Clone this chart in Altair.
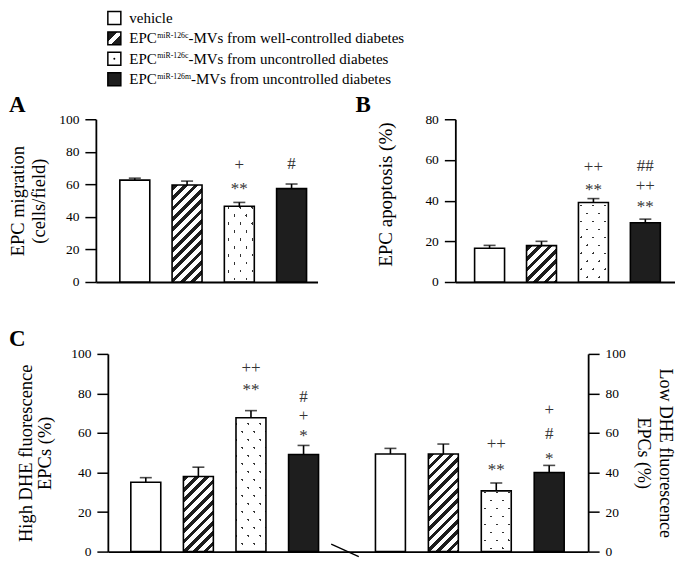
import math
import altair as alt
import pandas as pd

FONT = "Liberation Serif"

# ---------------- data ----------------
categories = ["vehicle", "wc126c", "uc126c", "uc126m"]
patterns = ["open", "hatch", "dots", "solid"]

legend_main = ["vehicle", "EPC", "EPC", "EPC"]
legend_sup = ["", "miR-126c", "miR-126c", "miR-126m"]
legend_rest = ["", "-MVs from well-controlled diabetes",
               "-MVs from uncontrolled diabetes", "-MVs from uncontrolled diabetes"]

a_mean = [62.6, 59.6, 46.5, 57.4]
a_err = [63.8, 62.0, 48.9, 60.2]
b_mean = [16.6, 17.9, 39.1, 29.1]
b_err = [18.0, 20.0, 41.0, 30.9]
cl_mean = [35.1, 38.0, 67.7, 49.1]
cl_err = [37.4, 42.7, 71.3, 53.7]
cr_mean = [49.4, 49.4, 30.7, 40.0]
cr_err = [52.2, 54.4, 34.7, 43.6]

a_note_cat = ["uc126c", "uc126c", "uc126m"]
a_note_txt = ["+", "**", "#"]
a_note_y = [72.1, 60.0, 72.6]

b_note_cat = ["uc126c", "uc126c", "uc126m", "uc126m", "uc126m"]
b_note_txt = ["++", "**", "##", "++", "**"]
b_note_y = [56.5, 47.2, 56.9, 47.2, 39.1]

cl_note_cat = ["uc126c", "uc126c", "uc126m", "uc126m", "uc126m"]
cl_note_txt = ["++", "**", "#", "+", "*"]
cl_note_y = [93.0, 84.0, 78.2, 68.4, 60.6]

cr_note_cat = ["uc126c", "uc126c", "uc126m", "uc126m", "uc126m"]
cr_note_txt = ["++", "**", "+", "#", "*"]
cr_note_y = [54.4, 43.3, 71.5, 59.7, 48.9]

panel_labels = ["A", "B", "C"]

# ---------------- layout (view pixels) ----------------
W, H = 667, 542
BW = 30
GEOM = {
    "A": dict(x0=87, x1=309, top=109, bottom=272, ymax=100, centers=[126, 177, 229.5, 283],
              orient="left", title=["EPC migration", "(cells/field)"], titleX=-78.5,
              titleY=190.5, titleSize=18.5, lineH=21.5),
    "B": dict(x0=447, x1=667, top=109, bottom=272, ymax=80, centers=[481.3, 531, 583.7, 637.3],
              orient="left", title="EPC apoptosis (%)", titleX=-70, titleY=184,
              titleSize=19, lineH=21),
    "CL": dict(x0=99, x1=337, top=344, bottom=542, ymax=100, centers=[137, 189.3, 242.3, 295],
               orient="left", title=["High DHE fluorescence", "EPCs (%)"], titleX=-82.3,
               titleY=443, titleSize=18.5, lineH=18.5),
    "CR": dict(x0=337, x1=580, top=344, bottom=542, ymax=100, centers=[382, 434, 486.2, 541],
               orient="right", title=["Low DHE fluorescence", "EPCs (%)"], titleX=76,
               titleY=443, titleSize=18, lineH=22),
}
TRANSPARENT = "rgba(255,255,255,0)"
BLACK = "#1e1e1e"
NOTE_COLOR = "#333333"


def band_params(x0, x1, centers, bw=BW):
    s = (centers[-1] - centers[0]) / 3.0
    pi = 1 - bw / s
    L = centers[0] - bw / 2 - x0
    R = x1 - (centers[-1] + bw / 2)
    po = (L + R) / (2 * s)
    al = L / (L + R)
    return pi, po, al


def stripes(w, h, nx, ny, period, on_w, on_col, off_col, phase=0.0):
    n = math.hypot(nx, ny)
    nx, ny = nx / n, ny / n
    span = abs(nx) * w + abs(ny) * h
    q = nx * nx * w * w + ny * ny * h * h
    k = span / q
    ux = 1.0 if nx < 0 else 0.0
    uy = 1.0 if ny < 0 else 0.0
    stops = [{"offset": 0.0, "color": off_col}]
    s = phase
    while s < span:
        a = max(0.0, s / span)
        b = min(1.0, (s + on_w) / span)
        if b > a:
            stops += [{"offset": round(a, 5), "color": off_col},
                      {"offset": round(a, 5), "color": on_col},
                      {"offset": round(b, 5), "color": on_col},
                      {"offset": round(b, 5), "color": off_col}]
        s += period
    stops.append({"offset": 1.0, "color": off_col})
    return {"gradient": "linear", "x1": ux, "y1": uy,
            "x2": round(ux + k * nx * w, 5), "y2": round(uy + k * ny * h, 5), "stops": stops}


def panel(key, means, errs, note_cat, note_txt, note_y):
    g = GEOM[key]
    pi, po, al = band_params(g["x0"], g["x1"], g["centers"])
    xs = alt.Scale(type="band", domain=categories, range=[g["x0"], g["x1"]],
                   paddingInner=pi, paddingOuter=po, align=al)
    ys = alt.Scale(domain=[0, g["ymax"]], range=[g["bottom"], g["top"]], nice=False, zero=True)
    xaxis = alt.Axis(orient="bottom", offset=g["bottom"] - H, labels=False, ticks=False,
                     title=None, domainColor="black", domainWidth=1.8, grid=False)
    yoff = -g["x0"] if g["orient"] == "left" else g["x1"] - W
    yaxis = alt.Axis(orient=g["orient"], offset=yoff, values=list(range(0, g["ymax"] + 1, 20)),
                     tickSize=11, tickWidth=1.5, tickColor="black", domainColor="black",
                     domainWidth=1.8, labelFont=FONT, labelFontSize=13.5, labelColor="black",
                     labelPadding=6, labelFlush=False, grid=False, title=g["title"],
                     titleFont=FONT, titleFontSize=g["titleSize"], titleFontWeight="normal",
                     titleColor="black", titleX=g["titleX"], titleY=g["titleY"],
                     titleAngle=-90 if g["orient"] == "left" else 90,
                     titleBaseline="middle", titleAlign="center", titleLineHeight=g["lineH"])

    def X():
        return alt.X("cat:N", scale=xs, axis=xaxis)

    def Y(field):
        return alt.Y(f"{field}:Q", scale=ys, axis=yaxis)

    df = pd.DataFrame({"cat": categories, "mean": means, "err": errs, "pat": patterns})
    base = alt.Chart(df)
    ph = (g["bottom"] - g["top"]) / g["ymax"]
    h_hatch = means[1] * ph
    h_dots = means[2] * ph

    layers = [
        base.transform_filter(alt.datum.pat == "open").mark_bar(
            fill="white", stroke="black", strokeWidth=1.6).encode(x=X(), y=Y("mean")),
        base.transform_filter(alt.datum.pat == "solid").mark_bar(
            fill=BLACK, stroke="black", strokeWidth=1.6).encode(x=X(), y=Y("mean")),
        base.transform_filter(alt.datum.pat == "hatch").mark_bar(
            fill=stripes(BW, h_hatch, 1, 1, 7.3, 3.3, BLACK, "white", 1.0),
            stroke="black", strokeWidth=1.6).encode(x=X(), y=Y("mean")),
        base.transform_filter(alt.datum.pat == "dots").mark_bar(
            fill="white", strokeWidth=0).encode(x=X(), y=Y("mean")),
        base.transform_filter(alt.datum.pat == "dots").mark_bar(
            fill=stripes(BW, h_dots, 0.8, 0.6, 9.6, 1.7, "#333333", TRANSPARENT, 3.0),
            strokeWidth=0).encode(x=X(), y=Y("mean")),
        base.transform_filter(alt.datum.pat == "dots").mark_bar(
            fill=stripes(BW, h_dots, 0.8, -0.6, 9.6, 7.9, "white", TRANSPARENT, 1.0),
            stroke="black", strokeWidth=1.6).encode(x=X(), y=Y("mean")),
        base.mark_rule(stroke="black", strokeWidth=1.6).encode(
            x=X(), y=Y("mean"), y2=alt.Y2("err")),
        base.mark_tick(orient="horizontal", size=12, thickness=1.6, color="black").encode(
            x=X(), y=Y("err")),
    ]
    notes = pd.DataFrame({"cat": note_cat, "txt": note_txt, "y": note_y})
    nb = alt.Chart(notes)
    layers.append(nb.transform_filter("indexof(datum.txt, '*') < 0").mark_text(
        font=FONT, fontSize=17, color=NOTE_COLOR).encode(x=X(), y=Y("y"), text="txt:N"))
    layers.append(nb.transform_filter("indexof(datum.txt, '*') >= 0").mark_text(
        font=FONT, fontSize=17, color=NOTE_COLOR, dy=4.5).encode(x=X(), y=Y("y"), text="txt:N"))
    return alt.layer(*layers)


# ---------------- legend ----------------
leg = pd.DataFrame({"row": [0, 1, 2, 3], "main": legend_main, "sup": legend_sup,
                    "rest": legend_rest, "pat": patterns})
lb = alt.Chart(leg)
LY = alt.Y("row:Q", scale=alt.Scale(domain=[0, 3], range=[7.5, 69], nice=False, zero=False), axis=None)
SQX = alt.value(105.5)
legend_hatch = {"gradient": "linear", "x1": 0, "y1": 0, "x2": 1, "y2": 1, "stops": [
    {"offset": 0, "color": BLACK}, {"offset": 0.38, "color": BLACK},
    {"offset": 0.38, "color": "white"}, {"offset": 0.62, "color": "white"},
    {"offset": 0.62, "color": BLACK}, {"offset": 1, "color": BLACK}]}
TIMES_W = {"E": .611, "P": .556, "C": .667, "m": .778, "i": .278, "R": .667, "-": .333,
           "1": .5, "2": .5, "6": .5, "c": .444}


def tw(s, fs):
    return sum(TIMES_W.get(ch, .5) for ch in s) * fs


MAIN_FS, SUP_FS = 15, 7.8
MAIN_X = 120.5
legend_layers = [
    lb.transform_filter(alt.datum.pat == "open").mark_square(
        size=169, filled=True, fill="white", stroke="black", strokeWidth=1.5, opacity=1).encode(x=SQX, y=LY),
    lb.transform_filter(alt.datum.pat == "hatch").mark_square(
        size=169, filled=True, fill=legend_hatch, stroke="black", strokeWidth=1.5, opacity=1).encode(x=SQX, y=LY),
    lb.transform_filter(alt.datum.pat == "dots").mark_square(
        size=169, filled=True, fill="white", stroke="black", strokeWidth=1.5, opacity=1).encode(x=SQX, y=LY),
    lb.transform_filter(alt.datum.pat == "dots").mark_circle(
        size=4, color="black", opacity=1).encode(x=SQX, y=LY),
    lb.transform_filter(alt.datum.pat == "solid").mark_square(
        size=169, filled=True, fill=BLACK, stroke="black", strokeWidth=1.5, opacity=1).encode(x=SQX, y=LY),
    lb.mark_text(font=FONT, fontSize=MAIN_FS, align="left", color="black").encode(
        x=alt.value(MAIN_X), y=LY, text="main:N"),
]
sup_x = MAIN_X + tw("EPC", MAIN_FS) + 0.5
legend_layers.append(lb.transform_filter(alt.datum.row > 0).mark_text(
    font=FONT, fontSize=SUP_FS, align="left", baseline="alphabetic", dy=-0.5, color="black").encode(
    x=alt.value(sup_x), y=LY, text="sup:N"))
for r in range(1, 4):
    rx = sup_x + tw(legend_sup[r], SUP_FS)
    legend_layers.append(lb.transform_filter(alt.datum.row == r).mark_text(
        font=FONT, fontSize=MAIN_FS, align="left", color="black").encode(
        x=alt.value(rx), y=LY, text="rest:N"))
legend_chart = alt.layer(*legend_layers)

# ---------------- panel letters & axis break ----------------
label_pos = {"A": (0, 102), "B": (347, 102), "C": (0, 336)}
label_layers = []
for lab in panel_labels:
    lx, ly = label_pos[lab]
    label_layers.append(alt.Chart(pd.DataFrame({"lab": [lab]})).mark_text(
        font=FONT, fontSize=23, fontWeight="bold", align="left", baseline="alphabetic",
        color="black").encode(x=alt.value(lx), y=alt.value(ly), text="lab:N"))

brk = alt.Chart(pd.DataFrame({"k": [0]})).mark_rule(stroke="black", strokeWidth=1.3).encode(
    x=alt.value(322.7), x2=alt.value(350.3), y=alt.value(534.5), y2=alt.value(547))

chart = alt.layer(
    legend_chart,
    panel("A", a_mean, a_err, a_note_cat, a_note_txt, a_note_y),
    panel("B", b_mean, b_err, b_note_cat, b_note_txt, b_note_y),
    panel("CL", cl_mean, cl_err, cl_note_cat, cl_note_txt, cl_note_y),
    panel("CR", cr_mean, cr_err, cr_note_cat, cr_note_txt, cr_note_y),
    *label_layers,
    brk,
).resolve_scale(x="independent", y="independent").resolve_axis(
    x="independent", y="independent"
).properties(width=W, height=H, padding=0, background="white").configure_view(strokeWidth=0)

chart.save("out.html", embed_options={"renderer": "svg", "actions": False})
